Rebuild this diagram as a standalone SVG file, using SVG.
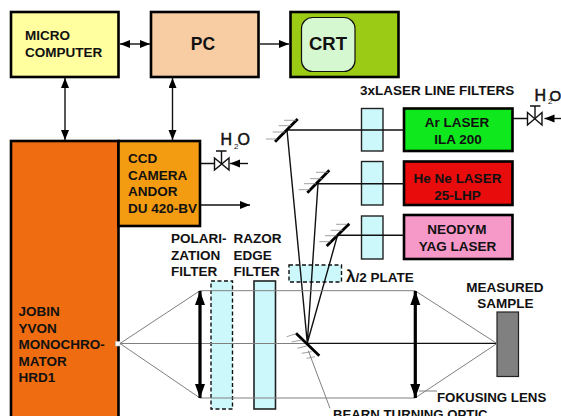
<svg xmlns="http://www.w3.org/2000/svg" width="561" height="416" viewBox="0 0 561 416">
<style>
text{font-family:"Liberation Sans",Arial,sans-serif;font-weight:700;font-size:13.5px;fill:#111}
.box{stroke:#000;stroke-width:2.6}
.filt{fill:#ccf8fc;stroke:#222;stroke-width:1.4}
.dash{fill:#ccf8fc;stroke:#111;stroke-width:1.4;stroke-dasharray:4 2.5}
.b{fill:none;stroke:#111;stroke-width:1.4}
.g{fill:none;stroke:#808080;stroke-width:1}
.m{fill:none;stroke:#000;stroke-width:2.8}
.h{fill:none;stroke:#888;stroke-width:.8}
.v{fill:#fff;stroke:#111;stroke-width:1.4}
.lens{fill:none;stroke:#000;stroke-width:3.2}
.c{text-anchor:middle}
.w{font-size:16px;font-weight:400;stroke:#111;stroke-width:.5}
.s{font-size:8px;font-weight:400}
</style>
<defs>
<marker id="a" markerUnits="userSpaceOnUse" markerWidth="11" markerHeight="9" refX="10" refY="4" orient="auto-start-reverse"><path d="M0 0L10 4L0 8Z" fill="#000"/></marker>
<marker id="l" markerUnits="userSpaceOnUse" markerWidth="16" markerHeight="11" refX="14" refY="5" orient="auto-start-reverse"><path d="M0 0L14 5L0 10Z" fill="#000"/></marker>
</defs>
<g id="micro-computer"><rect class="box" x="11" y="12" width="107.500" height="65" fill="#ffff9f"/><text x="25" y="40">MICRO</text><text x="25" y="57">COMPUTER</text></g>
<g id="pc"><rect class="box" x="151" y="12" width="107.500" height="65" fill="#f8cda3"/><text class="c" x="203" y="50" style="font-size:17.500px">PC</text></g>
<g id="crt"><rect class="box" x="290.500" y="12" width="108" height="65" fill="#9bcb14"/><rect x="301.500" y="17.500" width="53.500" height="54" rx="11" fill="#d6f8d0" stroke="#111" stroke-width="1.2"/><text class="c" x="328" y="50" style="font-size:18.500px">CRT</text></g>
<g id="monochromator"><rect class="box" x="11" y="141" width="107.500" height="290" fill="#ef6c10"/><text x="18.500" y="316">JOBIN</text><text x="18.500" y="332.500">YVON</text><text x="18.500" y="349">MONOCHRO-</text><text x="18.500" y="365.500">MATOR</text><text x="18.500" y="382">HRD1</text><rect x="115.500" y="341.500" width="4.500" height="4.500" fill="#fff" stroke="#bbb" stroke-width=".6"/></g>
<g id="ccd-camera"><rect class="box" x="118.500" y="141" width="81.500" height="85" fill="#f39c12"/><text x="128" y="163">CCD</text><text x="128" y="179.500">CAMERA</text><text x="128" y="196">ANDOR</text><text x="128" y="212.500">DU 420-BV</text></g>
<g id="ar-laser"><rect class="box" x="404" y="108.500" width="108.500" height="42.500" fill="#0fe81c"/><text class="c" x="457" y="127">Ar LASER</text><text class="c" x="458" y="144">ILA 200</text></g>
<g id="hene-laser"><rect class="box" x="404" y="161.500" width="108.500" height="43.500" fill="#e80c0c"/><text class="c" x="457.500" y="183">He Ne LASER</text><text class="c" x="457.500" y="200">25-LHP</text></g>
<g id="neodym-laser"><rect class="box" x="404" y="215" width="108.500" height="44" fill="#f698c8"/><text class="c" x="457" y="234">NEODYM</text><text class="c" x="457.500" y="250.500">YAG LASER</text></g>
<g id="line-filters"><rect class="filt" x="361.500" y="108.500" width="21.500" height="42.500"/><rect class="filt" x="361.500" y="161.500" width="21.500" height="43.500"/><rect class="filt" x="361.500" y="216" width="21.500" height="43"/><text x="360" y="95">3xLASER LINE FILTERS</text></g>
<g id="polarization-filter"><rect class="dash" x="211" y="281" width="21.500" height="128"/><text x="171" y="243">POLARI-</text><text x="171" y="259.500">ZATION</text><text x="171" y="276">FILTER</text></g>
<g id="razor-filter"><rect fill="#ccf8fc" stroke="#222" stroke-width="1.600" x="254" y="281" width="21.500" height="128"/><text x="233.500" y="243">RAZOR</text><text x="233.500" y="259.500">EDGE</text><text x="233.500" y="276">FILTER</text></g>
<g id="half-wave-plate"><rect class="dash" x="289" y="265" width="52.500" height="17"/><text x="346" y="282"><tspan style="font-size:17px">λ</tspan>/2 PLATE</text></g>
<g id="sample"><rect x="497" y="312" width="21.500" height="64.500" fill="#808080" stroke="#222" stroke-width="1.200"/><text class="c" x="505" y="292">MEASURED</text><text class="c" x="505.500" y="308">SAMPLE</text></g>
<g id="h2o-left"><text class="w" x="220.500" y="145">H</text><text class="s" x="234" y="149">2</text><text class="w" x="237.500" y="145">O</text></g>
<g id="h2o-right"><text class="w" x="534.500" y="100.500">H</text><text class="s" x="548" y="104">2</text><text class="w" x="549.500" y="100.500" style="font-size:15px">O</text></g>
<g id="labels"><text x="437" y="402" style="font-size:13.300px">FOKUSING LENS</text><text x="333" y="418.500" style="font-size:13.200px">BEARN TURNING OPTIC</text></g>
<g id="connectors">
<line class="b" x1="120" y1="44" x2="150" y2="44" marker-start="url(#a)" marker-end="url(#a)"/>
<line class="b" x1="260" y1="44" x2="289" y2="44" marker-end="url(#a)"/>
<line class="b" x1="65" y1="78" x2="65" y2="140" marker-start="url(#a)" marker-end="url(#a)"/>
<line class="b" x1="172.500" y1="78" x2="172.500" y2="140" marker-start="url(#a)" marker-end="url(#a)"/>
<line class="b" x1="201" y1="205" x2="250" y2="205" marker-end="url(#a)"/>
<path class="b" d="M201 163.500H214.500M221.500 163.500V151M216 151H226.500"/>
<path class="v" d="M214.500 158L229 170V158L214.500 170Z"/>
<line class="b" x1="248" y1="163.500" x2="230" y2="163.500" marker-end="url(#a)"/>
<path class="b" d="M513 118.500H527.500M535 118.500V106M530 106H540.500"/>
<path class="v" d="M527.500 112.500L542 125V112.500L527.500 125Z"/>
<line class="b" x1="561" y1="118.500" x2="544.500" y2="118.500" marker-end="url(#a)"/>
<path class="b" d="M287 130H404M318 183.700H404M337.500 235.300H404"/>
<path class="b" d="M287 130L307.300 343M318 183.700L307.300 343M337.500 235.300L307.300 343"/>
<path class="b" d="M307.300 343.400H497"/>
<path class="g" d="M120 343.500L200 290.700H415L497 343.500L415 398H200L120 343.500H307"/>
<path class="g" d="M308.300 350.700L330 408.300M419 391H437"/>
<path class="m" d="M275 141.700L297.700 119M307.300 192.700L329.300 170.300M326.700 246L349.300 223.700M296 333.300L319.300 355.700"/>
<path class="h" d="M284 120.300H296M278.700 125.700H291M272.700 132H285M266 139H277M316 172.300H328M310 178.700H322M304 183.700H316M298.700 189.700H310M336 224.300H347M330.700 230.300H342.700M325 235.700H336.700M319.300 241.700H330.700M286.700 336.700L296 333.700M291.700 342L301.700 340M297.300 348.300L306.700 346M301.700 353.300L311.700 351.700M306.700 358.300L315 356.700"/>
<line class="lens" x1="200" y1="291" x2="200" y2="398" marker-start="url(#l)" marker-end="url(#l)"/>
<line class="lens" x1="415.300" y1="291" x2="415.300" y2="398" marker-start="url(#l)" marker-end="url(#l)"/>
</g>
</svg>
